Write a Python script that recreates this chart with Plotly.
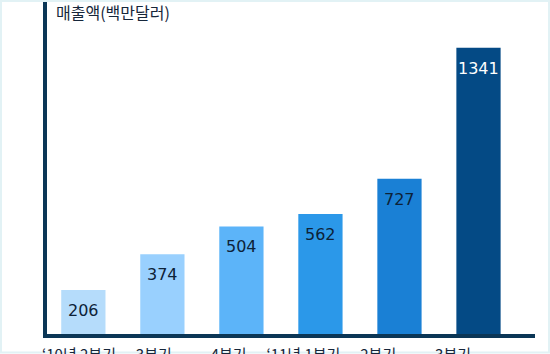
import plotly.graph_objects as go

categories = ["‘10년 2분기", "3분기", "4분기", "‘11년 1분기", "2분기", "3분기"]
values = [206, 374, 504, 562, 727, 1341]
bar_colors = ["#b5dcfb", "#99d0fe", "#5cb4f9", "#2b98e9", "#1a80d5", "#044a85"]
label_colors = ["#0d2238", "#0d2238", "#0d2238", "#0d2238", "#0d2238", "#ffffff"]
y_title = "매출액(백만달러)"

W, H = 550, 354
ml, mr, mt, mb = 47, 15, 2, 19.5
pos = list(range(len(categories)))

fig = go.Figure()
fig.add_trace(go.Bar(
    x=pos, y=values, width=0.56,
    marker=dict(color=bar_colors, line=dict(width=0)),
    hoverinfo="skip", showlegend=False,
))
# invisible trace so the label axis is drawn
fig.add_trace(go.Scatter(x=pos, y=[0]*len(pos), xaxis="x2", mode="markers",
                         marker=dict(opacity=0), hoverinfo="skip", showlegend=False))

font_family = "Noto Sans CJK KR, Noto Sans, DejaVu Sans"
annotations = []
for i, (v, c) in enumerate(zip(values, label_colors)):
    annotations.append(dict(
        x=i, y=v, xref="x", yref="y", text=str(v), showarrow=False,
        yanchor="top", yshift=-9,
        font=dict(size=16, color=c, family="DejaVu Sans"),
    ))
annotations.append(dict(
    x=(54 - ml) / (W - ml - mr), y=1 - 10 / (H - mt - mb), xref="paper", yref="paper",
    text=y_title, showarrow=False, xanchor="left", yanchor="middle",
    font=dict(size=16, color="#16263a", family=font_family),
))

fig.update_layout(
    width=W, height=H,
    margin=dict(l=ml, r=mr, t=mt, b=mb, pad=0, autoexpand=False),
    paper_bgcolor="white", plot_bgcolor="white",
    annotations=annotations,
    xaxis=dict(type="linear", range=[-0.46, 5.715], showticklabels=False,
               showgrid=False, zeroline=False, showline=True, automargin=False,
               linecolor="#0b3656", linewidth=4, ticks=""),
    xaxis2=dict(type="linear", range=[-0.428, 6.096], overlaying="x", anchor="y",
                side="bottom", tickvals=pos, ticktext=categories,
                showgrid=False, zeroline=False, showline=False, ticks="",
                ticklabelstandoff=10, automargin=False,
                tickfont=dict(size=15, color="#16263a", family=font_family)),
    yaxis=dict(range=[0, 1555], showticklabels=False, showgrid=False,
               zeroline=False, showline=True, linecolor="#0b3656", automargin=False,
               linewidth=4, ticks=""),
    shapes=[dict(type="rect", xref="paper", yref="paper",
                 x0=-(ml - 1) / (W - ml - mr), x1=1 + (mr - 1) / (W - ml - mr),
                 y0=-(mb - 1) / (H - mt - mb), y1=1 + (mt - 1) / (H - mt - mb),
                 line=dict(color="#e2f2f5", width=2), layer="below")],
)

fig.write_html("out.html")
